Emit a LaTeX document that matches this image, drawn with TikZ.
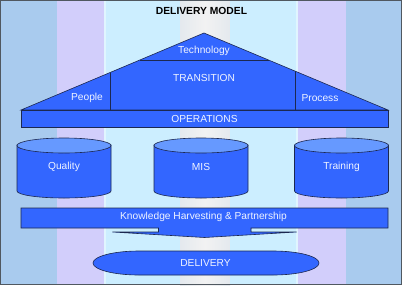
\documentclass[tikz,border=0pt]{standalone}
\usepackage{fontspec}
\setmainfont{Liberation Sans}
\definecolor{bgblue}{HTML}{A9CBEE}
\definecolor{bglav}{HTML}{D2CEFB}
\definecolor{bgcyan}{HTML}{CCEEFF}
\definecolor{bggray}{HTML}{E4E9EE}
\definecolor{bgwhite}{HTML}{F2F2F2}
\definecolor{shapeblue}{HTML}{3366FF}
\definecolor{toplight}{HTML}{6699FF}
\definecolor{edge}{HTML}{1C2850}
\definecolor{txt}{HTML}{F0F4FF}
\definecolor{frame}{HTML}{505860}
\tikzset{
  part/.style={fill=shapeblue, draw=edge, line width=0.6pt, line join=miter},
  lbl/.style={text=txt, font=\fontsize{10.2}{12}\selectfont, inner sep=0pt},
}
\begin{document}
\begin{tikzpicture}[x=1pt,y=-1pt]
\useasboundingbox (0,0) rectangle (402,285);
% background stripes
\fill[bgblue] (0,0) rectangle (57,285);
\fill[bglav] (57,0) rectangle (104,285);
\fill[bgcyan!60!white] (104,0) rectangle (106,285);
\fill[bgcyan] (106,0) rectangle (180,285);
\shade[left color=bggray, right color=bgwhite] (180,0) rectangle (205,285);
\shade[left color=bgwhite, right color=bggray] (205,0) rectangle (230,285);
\fill[bgcyan] (230,0) rectangle (296,285);
\fill[bgcyan!60!white] (296,0) rectangle (298,285);
\fill[bglav] (298,0) rectangle (346,285);
\fill[bgblue] (346,0) rectangle (402,285);
\draw[frame, line width=1.2pt] (0.6,0.6) rectangle (401.4,284.4);

% title
\node[inner sep=0pt, font=\fontsize{10.3}{12}\selectfont\bfseries] (title) at (201.5,11) {DELIVERY MODEL};

% roof
\coordinate (rl) at (21,110);
\coordinate (rt) at (204,33);
\coordinate (rr) at (388,110);
\path[part] (rl) -- (rt) -- (rr) -- cycle;
\coordinate (t1) at (139.8,60);
\coordinate (t2) at (268.6,60);
\draw[edge, line width=0.6pt] (t1) -- (t2);
\coordinate (v1a) at (110,72.5);
\coordinate (v1b) at (110,110);
\coordinate (v2a) at (295,71);
\coordinate (v2b) at (295,110);
\draw[edge, line width=0.6pt] (v1a) -- (v1b) (v2a) -- (v2b);
\node[lbl] (tech) at (204,51) {Technology};
\node[lbl] (trans) at (204,78) {TRANSITION};
\node[lbl] (people) at (87,98) {People};
\node[lbl] (process) at (320,98) {Process};

% operations
\path[part] (21,110) rectangle (388,127);
\node[lbl] (ops) at (204.5,118.5) {OPERATIONS};

% cylinders
\foreach \cx/\nm/\tx in {64/qual/Quality, 201/mis/MIS, 341.5/train/Training}{
  \path[part] (\cx-47,145) -- (\cx-47,191)
     arc[start angle=180, end angle=360, x radius=47pt, y radius=7pt]
     -- (\cx+47,145) -- cycle;
  \path[part, fill=toplight] (\cx,145.5) ellipse [x radius=47pt, y radius=7.5pt];
  \node[lbl] (\nm) at (\cx,167) {\tx};
}

% knowledge bar with arrow
\path[part] (21,208) -- (388,208) -- (388,228) -- (251,228) -- (251,232)
   -- (296.5,232) -- (204.5,237.5) -- (112.5,232) -- (158.5,232) -- (158.5,228)
   -- (21,228) -- cycle;
\node[lbl] (know) at (203.5,217) {Knowledge Harvesting \& Partnership};

% delivery
\path[part] (139,251) -- (273,251)
   arc[start angle=90, end angle=-90, x radius=46pt, y radius=12pt]
   -- (139,275)
   arc[start angle=270, end angle=90, x radius=46pt, y radius=12pt]
   -- cycle;
\node[lbl] (deliv) at (205.5,263) {DELIVERY};
\end{tikzpicture}
\end{document}
